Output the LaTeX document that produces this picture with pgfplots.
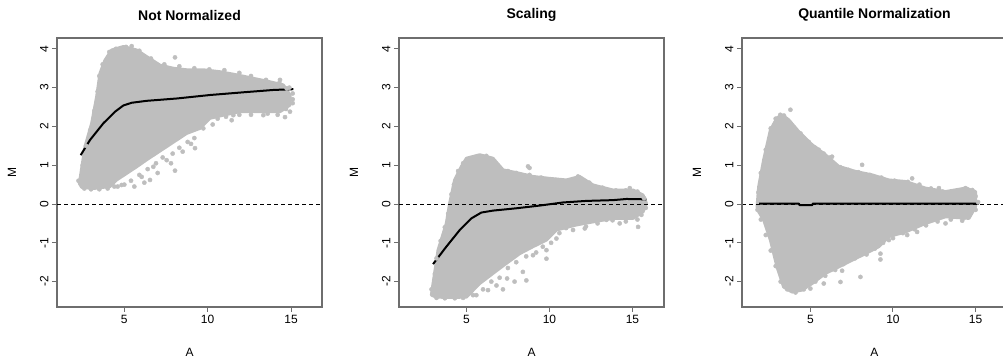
\documentclass[border=0pt]{standalone}
\usepackage{fontspec}
\setmainfont{Liberation Sans}
\usepackage{pgfplots}
\pgfplotsset{compat=1.18}
\definecolor{cloud}{HTML}{BEBEBE}
\definecolor{frame}{HTML}{6E6E6E}
\pgfplotsset{panel/.style={
  anchor=south west, scale only axis, width=265pt, height=269pt,
  ymin=-2.655, ymax=4.28,
  xtick={5,10,15}, xticklabels={5,10,15},
  ytick={-2,-1,0,1,2,3,4}, yticklabels={-2,-1,0,1,2,3,4},
  tick pos=left,
  tick align=outside, major tick length=5pt,
  axis line style={draw=frame, line width=1.4pt},
  every tick/.style={draw=frame, line width=1pt},
  tick label style={font=\fontsize{12}{14}\selectfont},
  yticklabel style={rotate=90, anchor=south},
  xlabel={A}, ylabel={M},
  label style={font=\fontsize{12}{14}\selectfont},
  xlabel style={at={(axis description cs:0.5,-0.167)}, anchor=center},
  ylabel style={at={(axis description cs:-0.17,0.5)}, anchor=center},
  title style={at={(axis description cs:0.5,1.063)}, anchor=center, font=\fontsize{14}{16}\selectfont\bfseries},
  clip=true,
},
cloudfill/.style={fill=cloud, draw=cloud, line width=3pt, line join=round},
cloudpts/.style={only marks, mark=*, mark size=2.1pt, color=cloud},
loess/.style={black, line width=2pt, line join=round},
zeroline/.style={black, line width=0.9pt, dash pattern=on 4pt off 3pt},
}
\begin{document}
\begin{tikzpicture}
\useasboundingbox (0,0) rectangle (1003pt,363pt);
% ---------------- Panel 1 ----------------
\begin{axis}[panel, at={(57pt,56pt)}, xmin=0.96, xmax=16.86, title={Not Normalized}]
\addplot[cloudfill] coordinates {
(2.30,0.53) (2.64,1.48) (3.04,2.08) (3.34,2.77) (3.54,3.37) (3.84,3.71) (4.24,3.97)
(4.94,4.06) (5.74,3.97) (6.34,3.80) (7.14,3.58) (7.94,3.50) (8.74,3.46) (9.74,3.46)
(10.74,3.41) (11.74,3.33) (12.74,3.24) (13.74,3.15) (14.54,3.07) (14.94,2.81) (14.94,2.55)
(14.34,2.38) (13.14,2.38) (11.94,2.38) (10.94,2.29) (10.14,2.21) (9.54,1.95) (8.74,1.82)
(8.14,1.65) (7.54,1.48) (6.94,1.31) (6.34,1.14) (5.74,0.96) (5.14,0.79) (4.54,0.62)
(4.14,0.45) (3.14,0.40) (2.44,0.43)} -- cycle;
\addplot[cloudpts] coordinates {
(8.04,0.86) (6.74,0.96) (6.04,0.70) (9.74,1.95) (9.24,1.44) (11.44,2.16) (13.34,2.29)
(14.64,2.24) (14.94,2.38) (14.34,3.20) (8.04,3.78) (5.44,4.07) (6.54,0.62) (4.84,0.49)
(7.54,1.13) (9.74,2.12) (11.54,2.29) (13.94,2.42) (14.74,2.98) (12.34,2.51) (15.1,2.7)
(4.6,0.45) (5.0,0.50)
(4.1,3.92) (4.5,4.0) (5.1,4.05) (5.9,3.95) (6.6,3.75) (7.4,3.6) (8.3,3.55) (9.2,3.5)
(10.1,3.47) (11.0,3.45) (11.9,3.38) (12.6,3.3) (13.5,3.2) (14.3,3.12) (14.9,3.0)
(10.3,2.05) (10.6,2.2) (11.1,2.25) (11.9,2.3) (12.6,2.3) (13.6,2.33) (14.2,2.3) (14.7,2.45)
(15.1,2.6) (15.1,2.85) (9.2,1.7) (8.8,1.6) (8.3,1.45) (7.9,1.3) (7.3,1.2) (6.9,1.05)
(6.4,0.9) (5.9,0.75) (5.4,0.6) (7.0,0.8) (7.8,1.05) (8.5,1.35) (9.0,1.55) (5.6,0.45) (6.2,0.55)
(2.25,0.6) (2.5,1.0) (2.7,1.5) (2.95,1.9) (3.2,2.4) (3.4,2.9) (3.5,3.3) (3.7,3.6)
(2.6,0.4) (3.0,0.38) (3.5,0.38) (4.0,0.4) (4.4,0.45)};
\addplot[zeroline] coordinates {(0.96,0) (16.86,0)};
\addplot[loess] coordinates {
(2.38,1.26) (2.94,1.65) (3.74,2.08) (4.44,2.38) (4.94,2.54) (5.44,2.61) (6.34,2.66)
(8.14,2.72) (10.14,2.81) (12.14,2.88) (13.94,2.94) (15.14,2.96)};
\end{axis}
% ---------------- Panel 2 ----------------
\begin{axis}[panel, at={(399pt,56pt)}, xmin=0.94, xmax=16.9, title={Scaling}]
\addplot[cloudfill] coordinates {
(2.89,-2.35) (2.99,-2.05) (3.29,-1.19) (3.79,-0.50) (3.99,0.02) (4.29,0.62) (4.70,0.97)
(5.00,1.18) (5.80,1.27) (6.60,1.18) (7.21,0.88) (8.21,0.79) (9.01,0.71) (10.02,0.66)
(11.02,0.62) (11.82,0.71) (12.63,0.49) (13.83,0.36) (15.04,0.36) (15.64,0.23) (15.84,0.02)
(15.64,-0.20) (15.04,-0.37) (13.83,-0.37) (12.63,-0.46) (11.62,-0.54) (10.42,-0.67)
(9.82,-0.93) (9.01,-1.10) (8.21,-1.28) (7.41,-1.53) (6.60,-1.79) (5.80,-2.05) (5.00,-2.40)
(3.99,-2.41) (3.19,-2.40)} -- cycle;
\addplot[cloudpts] coordinates {
(8.61,-1.97) (7.45,-1.92) (6.30,-2.22) (5.60,-2.35) (6.81,-2.10) (9.82,-1.41) (11.42,-0.67)
(12.13,-0.63) (13.43,-0.41) (15.34,-0.59) (15.54,-0.28) (14.23,-0.50) (11.72,0.71)
(8.71,0.97) (6.20,1.24) (14.84,0.41) (9.01,-1.32) (10.42,-0.89) (9.82,-1.19)
(4.5,0.85) (4.8,1.05) (5.2,1.12) (5.6,1.2) (6.0,1.22) (6.5,1.1) (6.9,0.95) (7.5,0.85)
(8.0,0.8) (8.8,0.75) (9.5,0.68) (10.4,0.62) (11.2,0.6) (12.0,0.62) (12.4,0.55) (13.2,0.42)
(14.0,0.35) (14.6,0.35) (15.3,0.32) (15.7,0.15) (8.8,0.93)
(15.8,-0.1) (15.3,-0.4) (14.6,-0.45) (13.8,-0.42) (12.9,-0.5) (12.2,-0.58) (11.0,-0.62)
(10.6,-0.75) (10.1,-1.0) (9.6,-1.1) (9.2,-1.25) (8.6,-1.35) (8.0,-1.5) (7.5,-1.65) (7.0,-1.9)
(6.5,-2.0) (6.0,-2.2) (5.4,-2.35) (7.9,-2.0) (8.4,-1.75) (7.2,-2.2)
(2.9,-2.2) (3.1,-1.8) (3.2,-1.4) (3.45,-0.95) (3.7,-0.6) (3.9,-0.25) (4.1,0.25) (4.25,0.5)
(3.2,-2.42) (3.7,-2.43) (4.3,-2.43) (4.8,-2.42)};
\addplot[zeroline] coordinates {(0.94,0) (16.9,0)};
\addplot[loess] coordinates {
(2.99,-1.55) (3.79,-1.10) (4.60,-0.67) (5.30,-0.37) (5.90,-0.22) (6.60,-0.17) (8.01,-0.11)
(9.42,-0.04) (10.82,0.04) (12.23,0.08) (13.83,0.10) (14.64,0.13) (15.84,0.12)};
\end{axis}
% ---------------- Panel 3 (cut at the right edge of the picture) ----------------
\begin{axis}[panel, name=p3, at={(742pt,56pt)}, width=261pt, xmin=0.86, xmax=16.66,
  axis line style={draw=none}, title style={at={(axis description cs:0.5076,1.063)}},
  xlabel style={at={(axis description cs:0.5076,-0.167)}},
  ylabel style={at={(axis description cs:-0.1724,0.5)}},
  title={Quantile Normalization}]
\addplot[cloudfill] coordinates {
(1.77,-0.07) (1.87,0.45) (2.17,1.14) (2.58,1.91) (2.98,2.22) (3.28,2.30) (3.69,2.17)
(4.29,1.87) (5.10,1.53) (5.91,1.27) (6.72,0.97) (7.73,0.84) (8.74,0.75) (9.75,0.62)
(10.76,0.58) (11.97,0.41) (13.18,0.32) (14.39,0.41) (15.0,0.32) (15.0,-0.07) (14.60,-0.37)
(13.18,-0.33) (11.97,-0.50) (10.76,-0.72) (9.75,-0.84) (9.14,-1.10) (8.33,-1.28)
(7.52,-1.45) (6.72,-1.62) (5.91,-1.79) (5.10,-2.05) (4.49,-2.22) (3.89,-2.27) (3.38,-2.14)
(2.98,-1.62) (2.58,-0.93) (2.17,-0.41) (1.87,-0.20)} -- cycle;
\addplot[cloudpts] coordinates {
(3.79,2.43) (3.18,2.30) (8.03,-1.88) (9.24,-1.43) (9.24,-1.28) (6.82,-2.01) (6.92,-1.72)
(5.81,-2.05) (5.0,-2.18) (8.13,1.01) (11.16,0.66) (12.78,0.41) (14.39,0.41) (14.8,0.36)
(14.19,-0.43) (13.18,-0.50) (11.46,-0.72) (10.86,-0.80) (9.75,-0.93) (5.5,1.40) (6.31,1.22)
(4.6,1.70)
(1.85,0.3) (2.0,0.8) (2.3,1.4) (2.6,1.95) (2.9,2.2) (3.4,2.28) (3.9,2.0) (4.4,1.82) (4.9,1.6)
(5.3,1.45) (5.8,1.3) (6.2,1.2) (6.8,0.95) (7.3,0.88) (7.9,0.82) (8.6,0.75) (9.3,0.68)
(10.1,0.6) (10.9,0.57) (11.6,0.5) (12.3,0.4) (13.0,0.32) (13.7,0.3) (14.5,0.38) (15.0,0.2)
(15.15,0.05)
(1.8,-0.15) (2.0,-0.4) (2.3,-0.8) (2.6,-1.2) (2.9,-1.6) (3.2,-2.0) (3.6,-2.2) (4.1,-2.28)
(4.6,-2.2) (5.3,-2.0) (5.9,-1.85) (6.5,-1.7) (7.0,-1.55) (7.7,-1.4) (8.4,-1.3) (8.9,-1.15)
(9.4,-1.0) (10.0,-0.88) (10.6,-0.75) (11.3,-0.65) (12.0,-0.55) (12.7,-0.45) (13.5,-0.4)
(14.3,-0.35) (15.0,-0.15)};
\addplot[zeroline] coordinates {(0.86,0) (16.66,0)};
\addplot[loess] coordinates {
(1.90,0.01) (4.30,0.01) (4.35,-0.03) (5.10,-0.03) (5.15,0.01) (15.20,0.01)};
\end{axis}
\draw[frame, line width=1.4pt, line cap=rect] (p3.north east) -- (p3.north west) -- (p3.south west) -- (p3.south east);
\end{tikzpicture}
\end{document}
